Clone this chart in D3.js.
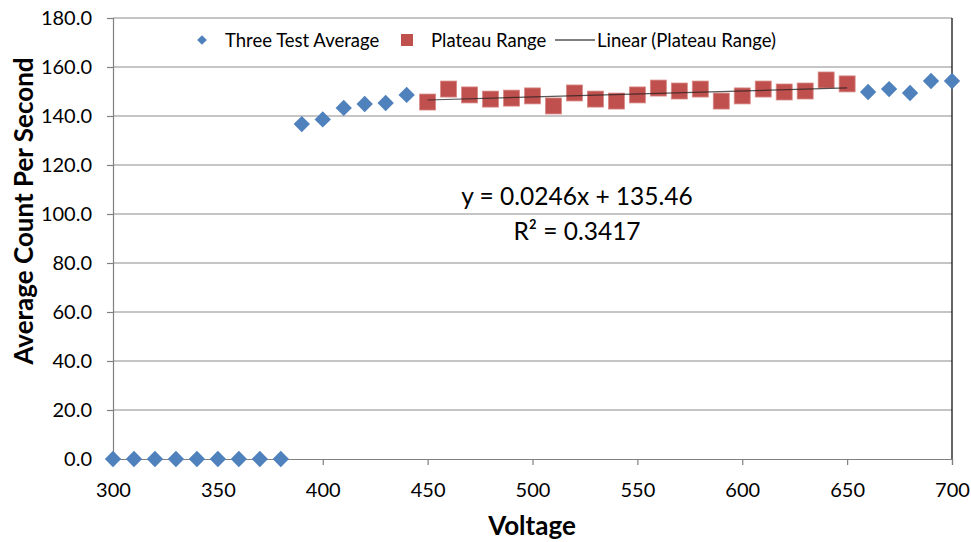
<!DOCTYPE html>
<html>
<head>
<meta charset="utf-8">
<script src="https://cdn.jsdelivr.net/npm/d3@7"></script>
<style>
  body { margin: 0; background: #fff; }
  svg text { font-family: Lato, "Open Sans", sans-serif; fill: #000; }
</style>
</head>
<body>
<script>
// Three test average, every voltage step
const voltages = [300,310,320,330,340,350,360,370,380,390,400,410,420,430,440,450,460,470,480,490,500,
  510,520,530,540,550,560,570,580,590,600,610,620,630,640,650,660,670,680,690,700];
const counts = [0,0,0,0,0,0,0,0,0,136.7,138.6,143.3,144.9,145.3,148.6,145.7,151.0,148.6,146.9,147.3,148.2,
  144.1,149.4,146.9,146.1,148.6,151.4,150.2,151.0,146.1,148.2,151.0,149.8,150.2,154.7,153.1,149.8,151.0,149.4,154.3,154.3];
// plateau range is 450..650
const plateauStart = 450, plateauEnd = 650;
const slope = 0.0246, intercept = 135.46, rSquared = 0.3417;
const xTicks = [300,350,400,450,500,550,600,650,700];
const yTicks = [0,20,40,60,80,100,120,140,160,180];

const W = 971, H = 542;
const margin = {left: 113, right: 19, top: 18, bottom: 83};

const svg = d3.select('body').append('svg')
  .attr('width', W)
  .attr('height', H)

const x = d3.scaleLinear().domain([300, 700]).range([margin.left, W - margin.right])
const y = d3.scaleLinear().domain([0, 180]).range([H - margin.bottom, margin.top])

const allPts = voltages.map((v, i) => ({v: v, c: counts[i]}))
const plateau = allPts.filter(d => d.v >= plateauStart && d.v <= plateauEnd)

// gridlines
svg.append('g')
  .selectAll('line')
  .data(yTicks.slice(1))
  .enter()
  .append('line')
  .attr('x1', x(300)).attr('x2', x(700))
  .attr('y1', d => y(d)).attr('y2', d => y(d))
  .attr('stroke', '#8c8c8c')
  .attr('stroke-width', 1.2)

// right edge of plot
svg.append('line')
  .attr('x1', x(700)).attr('x2', x(700))
  .attr('y1', y(180)).attr('y2', y(0))
  .attr('stroke', '#000')
  .attr('stroke-width', 1.2)

// axes
const yAxis = svg.append('g')
  .attr('transform', `translate(${x(300)},0)`)
  .call(d3.axisLeft(y).tickValues(yTicks).tickFormat(d3.format('.1f')).tickSize(6).tickPadding(15))
const xAxis = svg.append('g')
  .attr('transform', `translate(0,${y(0)})`)
  .call(d3.axisBottom(x).tickValues(xTicks).tickSize(6).tickPadding(18))

;[xAxis, yAxis].forEach(a => {
  a.select('.domain').attr('stroke', '#808080').attr('stroke-width', 1.2)
  a.selectAll('.tick line').attr('stroke', '#808080').attr('stroke-width', 1.2)
  a.selectAll('.tick text').attr('font-size', 20).attr('font-family', 'Lato, sans-serif')
})

const diamond = d3.symbol().type(d3.symbolDiamond2).size(170)

svg.append('g')
  .selectAll('path')
  .data(allPts)
  .enter()
  .append('path')
  .attr('d', diamond)
  .attr('transform', d => `translate(${x(d.v)},${y(d.c)})`)
  .attr('fill', '#4f81bd')

svg.append('g')
  .selectAll('rect')
  .data(plateau)
  .enter()
  .append('rect')
  .attr('x', d => x(d.v) - 8)
  .attr('y', d => y(d.c) - 8)
  .attr('width', 16)
  .attr('height', 16)
  .attr('fill', '#c0504d')
  .attr('stroke', '#d98a88')
  .attr('stroke-width', 0.8)

// trend line, drawn over the squares
svg.append('line')
  .attr('x1', x(plateauStart)).attr('y1', y(slope * plateauStart + intercept))
  .attr('x2', x(plateauEnd)).attr('y2', y(slope * plateauEnd + intercept))
  .attr('stroke', '#222')
  .attr('stroke-width', 1.2)
  .attr('opacity', 0.75)

// equation
svg.append('text')
  .attr('x', 577).attr('y', 205)
  .attr('text-anchor', 'middle')
  .attr('font-size', 24.5)
  .text(`y = ${slope}x + ${intercept}`)
svg.append('text')
  .attr('x', 577).attr('y', 240)
  .attr('text-anchor', 'middle')
  .attr('font-size', 24.5)
  .text(`R² = ${rSquared}`)

// axis titles
svg.append('text')
  .attr('x', 532).attr('y', 535)
  .attr('text-anchor', 'middle')
  .attr('font-size', 26)
  .attr('font-weight', 'bold')
  .text('Voltage')
svg.append('text')
  .attr('transform', 'translate(33,211) rotate(-90)')
  .attr('text-anchor', 'middle')
  .attr('font-size', 26)
  .attr('font-weight', 'bold')
  .text('Average Count Per Second')

// legend
const legend = svg.append('g').attr('id', 'legend')
legend.append('path')
  .attr('d', d3.symbol().type(d3.symbolDiamond2).size(60))
  .attr('transform', 'translate(202,40)')
  .attr('fill', '#4f81bd')
legend.append('text').attr('x', 225).attr('y', 47).attr('font-size', 18.5).text('Three Test Average')
legend.append('rect')
  .attr('x', 401).attr('y', 34).attr('width', 12).attr('height', 12)
  .attr('fill', '#c0504d')
legend.append('text').attr('x', 431).attr('y', 47).attr('font-size', 18.5).text('Plateau Range')
legend.append('line')
  .attr('x1', 555).attr('x2', 595).attr('y1', 40).attr('y2', 40)
  .attr('stroke', '#000').attr('stroke-width', 1)
legend.append('text').attr('x', 597).attr('y', 47).attr('font-size', 18.5).text('Linear (Plateau Range)')
</script>
</body>
</html>
